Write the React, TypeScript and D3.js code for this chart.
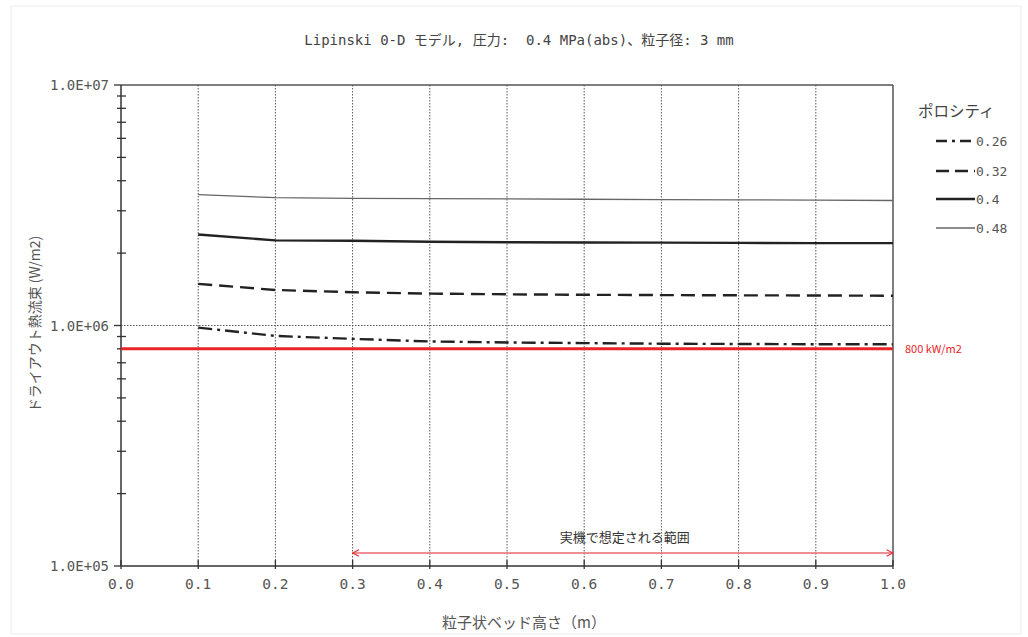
import React from "react";
import * as d3 from "d3";

const xValues = [0.1, 0.2, 0.3, 0.4, 0.5, 0.6, 0.7, 0.8, 0.9, 1.0];
const porosity026 = [0.98e6, 0.905e6, 0.88e6, 0.858e6, 0.85e6, 0.845e6, 0.84e6, 0.838e6, 0.836e6, 0.835e6];
const porosity032 = [1.49e6, 1.405e6, 1.375e6, 1.357e6, 1.348e6, 1.342e6, 1.338e6, 1.335e6, 1.333e6, 1.33e6];
const porosity040 = [2.39e6, 2.26e6, 2.25e6, 2.23e6, 2.22e6, 2.215e6, 2.21e6, 2.205e6, 2.2e6, 2.2e6];
const porosity048 = [3.5e6, 3.4e6, 3.38e6, 3.37e6, 3.36e6, 3.35e6, 3.34e6, 3.33e6, 3.32e6, 3.31e6];
const seriesNames = ["0.26", "0.32", "0.4", "0.48"];
const xTicks = [0, 0.1, 0.2, 0.3, 0.4, 0.5, 0.6, 0.7, 0.8, 0.9, 1.0];
const yMajor = [1e5, 1e6, 1e7];
const yMajorLabels = ["1.0E+05", "1.0E+06", "1.0E+07"];
const limitValue = 800000;
const limitLabel = "800 kW/m2";
const rangeStart = 0.3;
const rangeEnd = 1.0;
const rangeLabel = "実機で想定される範囲";
const title = "Lipinski 0-D モデル, 圧力:  0.4 MPa(abs)、粒子径: 3 mm";
const xTitle = "粒子状ベッド高さ（m）";
const yTitle = "ドライアウト熱流束 (W/m2)";
const legendTitle = "ポロシティ";

const MONO = "'DejaVu Sans Mono', 'Noto Sans CJK JP', monospace";
const CJK = "'Noto Sans CJK JP', 'DejaVu Sans', sans-serif";

export default function App() {
  const W = 1028, H = 637;
  const L = 121, R = 893, T = 85, B = 566;
  const x = d3.scaleLinear().domain([0, 1]).range([L, R]);
  const y = d3.scaleLog().domain([1e5, 1e7]).range([B, T]);

  const minor: number[] = [];
  [1e5, 1e6].forEach((d) => {
    for (let k = 2; k <= 9; k++) minor.push(d * k);
  });

  const styles = [
    { data: porosity026, stroke: "#222", width: 2.4, dash: "14,5,3,5" },
    { data: porosity032, stroke: "#222", width: 2.4, dash: "14,7" },
    { data: porosity040, stroke: "#222", width: 2.4, dash: "" },
    { data: porosity048, stroke: "#666", width: 1.3, dash: "" },
  ];

  const line = d3
    .line<number>()
    .x((_, i) => x(xValues[i]))
    .y((d) => y(d));

  const legendY = [141, 171, 199, 228];

  return (
    <svg
      width={W}
      height={H}
      style={{ position: "absolute", left: 0, top: 0, display: "block", background: "#fff" }}
    >
      <rect x={11} y={6} width={1010} height={628} fill="none" stroke="#ececec" strokeWidth={1} />
      {/* title */}
      <text x={519} y={45} textAnchor="middle" fontFamily={MONO} fontSize={14} fill="#444" style={{ whiteSpace: "pre" }}>
        {title}
      </text>

      {/* vertical grid */}
      {xTicks.slice(1, -1).map((t) => (
        <line key={"vg" + t} x1={x(t)} x2={x(t)} y1={T} y2={B} stroke="#555" strokeWidth={1} strokeDasharray="1.5,1.5" />
      ))}
      {/* horizontal grid at 1e6 */}
      <line x1={L} x2={R} y1={y(1e6)} y2={y(1e6)} stroke="#555" strokeWidth={1} strokeDasharray="1.5,1.5" />

      {/* frame */}
      <line x1={L} x2={R} y1={T} y2={T} stroke="#555" strokeWidth={1.5} />
      <line x1={R} x2={R} y1={T} y2={B} stroke="#555" strokeWidth={1.5} />
      <line x1={L} x2={L} y1={T} y2={B} stroke="#333" strokeWidth={1.5} />
      <line x1={L} x2={R} y1={B} y2={B} stroke="#333" strokeWidth={1.5} />

      {/* y ticks */}
      {minor.map((m) => (
        <line key={"mn" + m} x1={L - 4} x2={L + 5} y1={y(m)} y2={y(m)} stroke="#333" strokeWidth={1.3} />
      ))}
      {yMajor.map((m, i) => (
        <g key={"mj" + m}>
          <line x1={L - 7} x2={L} y1={y(m)} y2={y(m)} stroke="#333" strokeWidth={1.3} />
          <text x={L - 12} y={y(m) + 5} textAnchor="end" fontFamily={MONO} fontSize={14} fill="#555">
            {yMajorLabels[i]}
          </text>
        </g>
      ))}

      {/* x ticks */}
      {xTicks.map((t) => (
        <g key={"xt" + t}>
          <line x1={x(t)} x2={x(t)} y1={B - 6} y2={B + 3} stroke="#333" strokeWidth={1.3} />
          <text x={x(t)} y={B + 23} textAnchor="middle" fontFamily={MONO} fontSize={14.5} fill="#555">
            {t.toFixed(1)}
          </text>
        </g>
      ))}

      {/* limit line */}
      <line x1={x(0)} x2={x(1)} y1={y(limitValue)} y2={y(limitValue)} stroke="#e8262a" strokeWidth={3} />
      <text x={905} y={y(limitValue) + 4} fontFamily={CJK} fontSize={11} fill="#e8262a">
        {limitLabel}
      </text>

      {/* series */}
      {styles.map((s, i) => (
        <path
          key={"s" + i}
          d={line(s.data) || ""}
          fill="none"
          stroke={s.stroke}
          strokeWidth={s.width}
          strokeDasharray={s.dash || undefined}
        />
      ))}

      {/* range annotation */}
      <defs>
        <marker id="arrR" viewBox="0 0 10 10" refX="9" refY="5" markerWidth="8" markerHeight="8" orient="auto-start-reverse" markerUnits="userSpaceOnUse">
          <path d="M1,1 L9,5 L1,9" fill="none" stroke="#e8262a" strokeWidth={1.3} />
        </marker>
      </defs>
      <line
        x1={x(rangeStart)}
        x2={x(rangeEnd)}
        y1={553}
        y2={553}
        stroke="#e86a6c"
        strokeWidth={1.3}
        markerStart="url(#arrR)"
        markerEnd="url(#arrR)"
      />
      <text x={x((rangeStart + rangeEnd) / 2) + 2} y={542} textAnchor="middle" fontFamily={CJK} fontSize={13} fill="#333">
        {rangeLabel}
      </text>

      {/* axis titles */}
      <text x={524} y={628} textAnchor="middle" fontFamily={CJK} fontSize={15} fill="#555">
        {xTitle}
      </text>
      <text
        transform={`translate(40, ${324}) rotate(-90)`}
        textAnchor="middle"
        fontFamily={CJK}
        fontSize={14}
        fill="#555"
      >
        {yTitle}
      </text>

      {/* legend */}
      <text x={918} y={117} fontFamily={CJK} fontSize={15.5} fill="#444">
        {legendTitle}
      </text>
      {styles.map((s, i) => (
        <g key={"lg" + i}>
          <line
            x1={936}
            x2={975}
            y1={legendY[i]}
            y2={legendY[i]}
            stroke={s.stroke}
            strokeWidth={s.width}
            strokeDasharray={i === 0 ? "11,5,3,5" : i === 1 ? "13,6" : undefined}
          />
          <text x={976} y={legendY[i] + 5} fontFamily={MONO} fontSize={13} fill="#555">
            {seriesNames[i]}
          </text>
        </g>
      ))}
    </svg>
  );
}
